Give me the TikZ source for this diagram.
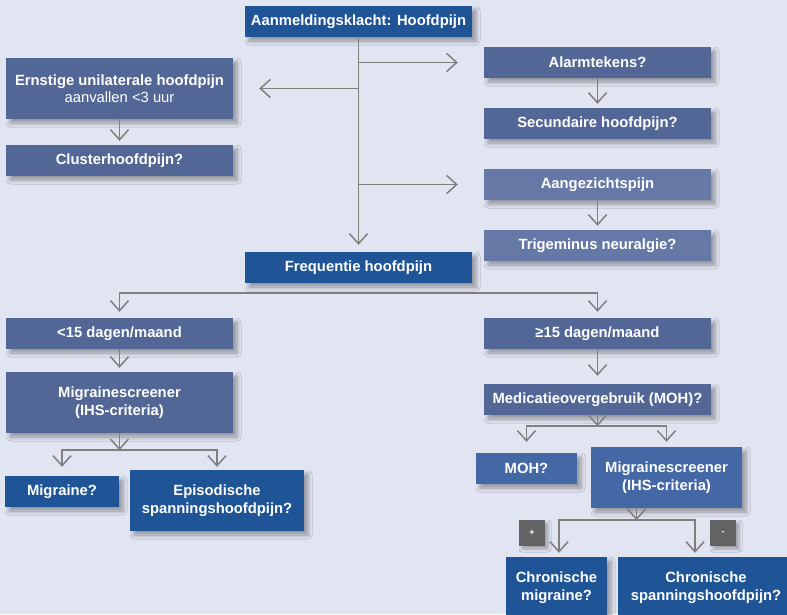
\documentclass[tikz,border=0pt]{standalone}
\usepackage{fontspec}
\setmainfont{Liberation Sans}
\usepackage{tikz}
\usetikzlibrary{arrows.meta,shadows.blur}
\usepackage{xcolor}
\definecolor{achtergrond}{HTML}{E1E4F1}
\definecolor{donkerblauw}{HTML}{1F5597}
\definecolor{leiblauw}{HTML}{536796}
\definecolor{lichtblauw}{HTML}{6678A5}
\definecolor{middenblauw}{HTML}{4467A5}
\definecolor{vlakgrijs}{HTML}{636363}
\definecolor{lijngrijs}{HTML}{7F7F7F}
\newcommand{\kader}{\fontsize{14.8pt}{17.5pt}\selectfont\bfseries}
\newcommand{\tekenfont}{\fontsize{9pt}{11pt}\selectfont\bfseries}

\tikzset{
    blok/.style={rectangle, minimum width=227pt, minimum height=31pt, inner sep=0pt,
        text=white, align=center, font=\kader,
        blur shadow={shadow xshift=4pt, shadow yshift=-4pt, shadow blur radius=4pt,
        shadow blur steps=6, shadow opacity=35}},
    teken/.style={rectangle, minimum size=26pt, inner sep=0pt, fill=vlakgrijs,
        text=white, font=\tekenfont,
        blur shadow={shadow xshift=3pt, shadow yshift=-3pt, shadow blur radius=3pt,
        shadow blur steps=5, shadow opacity=30}},
    lijn/.style={draw=lijngrijs, line width=1.5pt},
    pijl/.style={lijn, -{Straight Barb[length=10pt, width=18pt]}, shorten >=4pt},
}

\begin{document}
\begin{tikzpicture}[x=1pt, y=-1pt]
    \fill[achtergrond] (0,0) rectangle (787,614);
    \useasboundingbox (0,0) rectangle (787,614);

    \node[blok, fill=donkerblauw] (klacht) at (358.5,21.5) {Aanmeldingsklacht: Hoofdpijn};
    \node[blok, fill=leiblauw, minimum height=61pt] (ernstig) at (119.5,88.5)
        {Ernstige unilaterale hoofdpijn\\{\mdseries aanvallen <3 uur}};
    \node[blok, fill=leiblauw] (cluster) at (119.5,160.5) {Clusterhoofdpijn?};
    \node[blok, fill=leiblauw] (alarm) at (597.5,62.5) {Alarmtekens?};
    \node[blok, fill=leiblauw] (secundair) at (597.5,123.5) {Secundaire hoofdpijn?};
    \node[blok, fill=lichtblauw] (gelaat) at (597.5,184.5) {Aangezichtspijn};
    \node[blok, fill=lichtblauw] (trigeminus) at (597.5,245.5) {Trigeminus neuralgie?};
    \node[blok, fill=donkerblauw] (frequentie) at (358.5,267.5) {Frequentie hoofdpijn};

    \node[blok, fill=leiblauw] (minder) at (119.5,333.5) {<15 dagen/maand};
    \node[blok, fill=leiblauw, minimum height=61pt] (screenerA) at (119.5,402.5)
        {Migrainescreener\\(IHS-criteria)};
    \node[blok, fill=donkerblauw, minimum width=114pt] (migraine) at (62,491.5) {Migraine?};
    \node[blok, fill=donkerblauw, minimum width=174pt, minimum height=61pt] (episodisch)
        at (217,500.5) {Episodische\\spanningshoofdpijn?};

    \node[blok, fill=leiblauw] (meer) at (597.5,333.5) {≥15 dagen/maand};
    \node[blok, fill=leiblauw] (overgebruik) at (597.5,399.5) {Medicatieovergebruik (MOH)?};
    \node[blok, fill=middenblauw, minimum width=101pt] (moh) at (526.5,468.5) {MOH?};
    \node[blok, fill=middenblauw, minimum width=151pt, minimum height=61pt] (screenerB)
        at (666.5,477.5) {Migrainescreener\\(IHS-criteria)};
    \node[teken] (plus) at (532,533) {+};
    \node[teken] (min) at (723,533) {-};
    \node[blok, fill=donkerblauw, minimum width=101pt, minimum height=61pt] (chronM)
        at (556.5,587.5) {Chronische\\migraine?};
    \node[blok, fill=donkerblauw, minimum width=176pt, minimum height=61pt] (chronS)
        at (706,587.5) {Chronische\\spanningshoofdpijn?};

    % bovenste stam
    \draw[pijl, shorten >=7pt] (klacht) -- (frequentie);
    \draw[pijl, shorten >=26pt] (klacht.south |- alarm.west) -- (alarm.west);
    \draw[pijl, shorten >=26pt] (klacht.south |- ernstig.east) -- (ernstig.east);
    \draw[pijl, shorten >=26pt] (klacht.south |- gelaat.west) -- (gelaat.west);
    \draw[pijl] (ernstig) -- (cluster);
    \draw[pijl] (alarm) -- (secundair);
    \draw[pijl] (gelaat) -- (trigeminus);

    % frequentie
    \coordinate (splitsF) at ([yshift=-10pt]frequentie.south);
    \draw[pijl, shorten >=6pt] (splitsF) -| (minder.north);
    \draw[pijl, shorten >=6pt] (splitsF) -| (meer.north);
    \draw[pijl] (minder) -- (screenerA);
    \draw[pijl, shorten >=8pt] (meer) -- (overgebruik);

    \coordinate (splitsA) at ([yshift=-17pt]screenerA.south);
    \draw[pijl, shorten >=0pt] (screenerA) -- (splitsA);
    \draw[pijl, shorten >=9pt] (splitsA) -| (migraine.north);
    \draw[pijl, shorten >=3pt] (splitsA) -| (episodisch.north);

    \coordinate (splitsM) at ([yshift=-11pt]overgebruik.south);
    \draw[pijl, shorten >=0pt] (overgebruik) -- (splitsM);
    \draw[pijl, shorten >=11pt] (splitsM) -| (moh.north);
    \draw[pijl, shorten >=5pt] (splitsM) -| (screenerB.north);

    \coordinate (splitsB) at ([xshift=-30pt, yshift=-12pt]screenerB.south);
    \draw[pijl, shorten >=0pt] (splitsB |- screenerB.south) -- (splitsB);
    \draw[pijl] (splitsB) -| ([xshift=2.5pt]chronM.north);
    \draw[pijl] (splitsB) -| ([xshift=-11pt]chronS.north);
\end{tikzpicture}
\end{document}
